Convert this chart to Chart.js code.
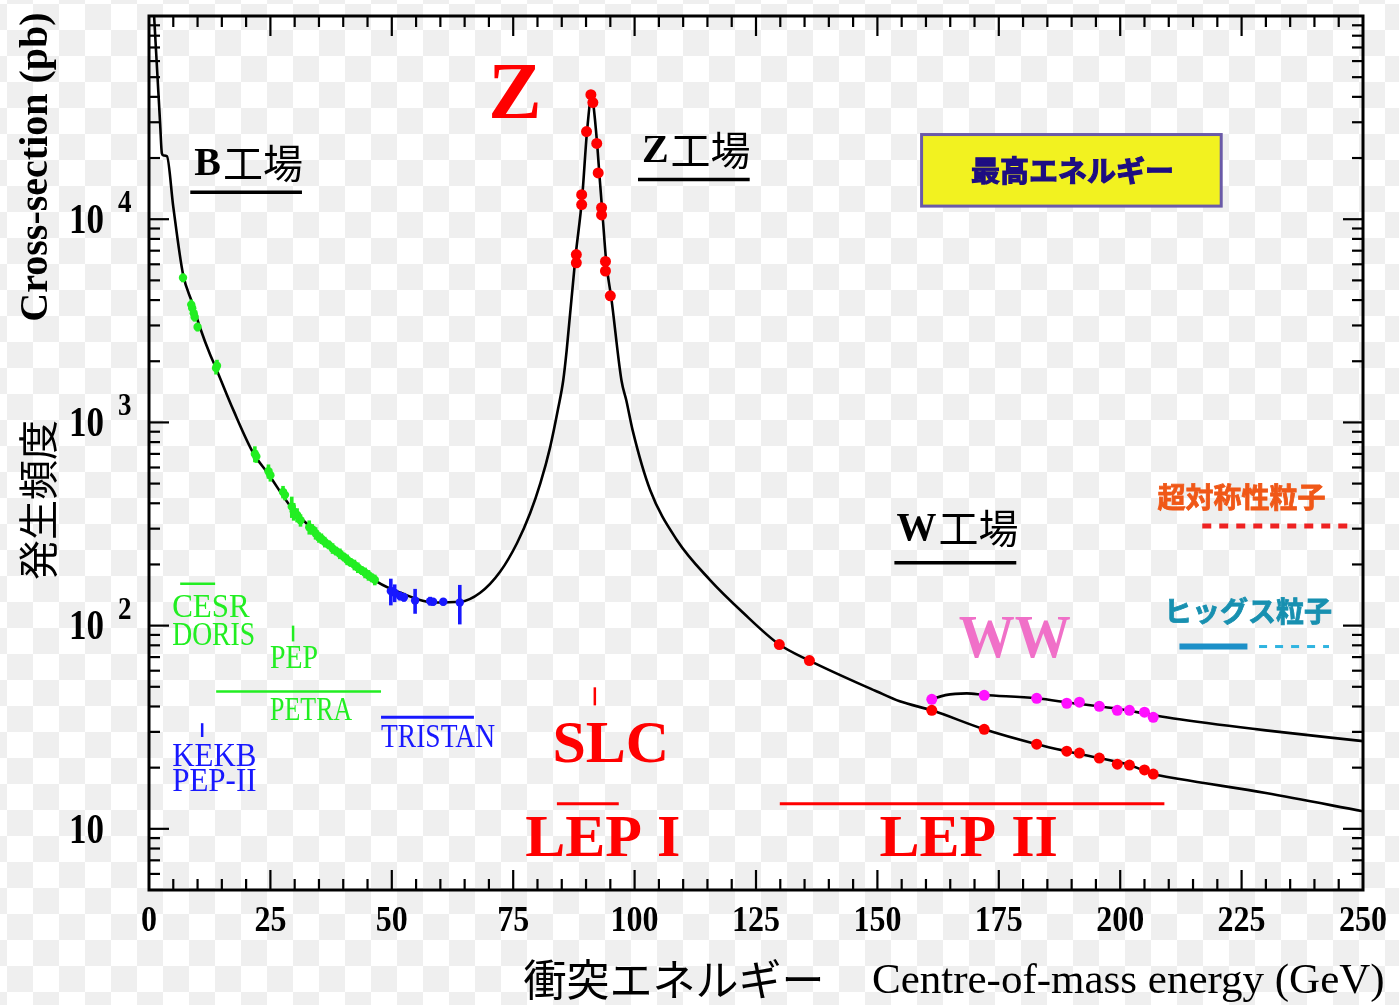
<!DOCTYPE html>
<html><head><meta charset="utf-8">
<script src="https://cdn.jsdelivr.net/npm/chart.js@4/dist/chart.umd.min.js"></script>
<style>
html,body{margin:0;padding:0;}
body{width:1399px;height:1005px;overflow:hidden;background-color:#fff;
background-image:conic-gradient(#efefef 25%, #fff 0 50%, #efefef 0 75%, #fff 0);
background-size:52px 52px;background-position:7px 4px;}
canvas{display:block;}
</style></head><body>
<canvas id="c" width="1399" height="1005"></canvas>
<script>
// ---------- data ----------
const curveE = [1.05,2.3,2.65,3.0,3.7,5.0,7.0,8.9,10.5,12.6,13.4,17.4,21.5,24.4,29.7,33.9,38.0,42.1,47.0,51.8,58.5,64.1,68.2,72.3,75.8,78.5,80.6,82.6,84.3,85.3,86.0,87.8,89.2,90.2,91.2,91.45,92.3,92.8,93.35,94.2,95.2,97.3,98.3,99.6,103.2,108.7,115.5,122.3,129.8,136.0,149.9,154.6,161.2,172.0,182.8,189.0,195.7,201.9,206.8,212.2,230,250];
const curveSigma = [100000,29300,21100,20600,20400,11500,5370,3870,2930,2150,1946,1146,705,565,371,296,241,204,164,145,130,131,145,184,255,358,502,754,1186,1608,2250,6440,12800,27000,41000,37800,23300,16000,10900,6020,4100,1608,1282,914,465,264,168,116,80.7,67.3,47.4,42.4,38.3,30.9,26.1,24.1,22.3,20.6,18.6,17.6,15.0,12.2];

const wwCurveE = [161.2,164.0,168.4,172.0,182.8,190.0,200.0,207.0,212.2,230,250];
const wwCurveSigma = [43.4,45.5,46.4,45.6,43.9,41.6,38.8,36.2,34.6,30.5,27.0];

const lowE = [7.0,8.7,8.9,9.2,9.4,10.0,13.8,14.0,21.8,22.1,24.6,25.0,27.6,28.0,29.4,29.8,30.5,31.2,33.0,33.6,34.3,35.0,35.5,36.2,37.0,37.8,38.5,39.3,40.1,40.8,41.5,42.3,43.0,43.8,44.5,45.2,45.9,46.5];
const lowSigma = [5150,3800,3650,3450,3300,2950,1850,1900,700,680,575,550,455,440,385,365,350,330,305,298,285,272,268,258,250,240,233,226,218,211,205,199,193,187,182,177,172,168];
const lowErr = [0.05,0.06,0.05,0.06,0.05,0.05,0.07,0.07,0.09,0.07,0.08,0.07,0.07,0.06,0.12,0.10,0.08,0.07,0.08,0.06,0.07,0.06,0.06,0.06,0.05,0.06,0.05,0.06,0.05,0.06,0.05,0.06,0.06,0.05,0.06,0.06,0.05,0.06];

const tristanE = [49.8,50.6,51.7,52.5,54.8,57.9,58.5,60.6,64.0];
const tristanSigma = [148,145,140,138,133,132,131,131,130];
const tristanErr = [0.15,0.10,0.05,0.05,0.14,0.05,0.04,0.04,0.22];

const lep1E = [91.0,91.4,90.1,92.2,92.5,89.1,89.1,93.2,93.2,88.0,88.0,94.0,94.0,95.0];
const lep1Sigma = [41000,37500,27000,23600,16900,13200,11800,11400,10500,6700,6100,6200,5560,4200];

const lep2E = [129.8,136.0,161.2,172.0,182.8,189.0,191.6,195.7,199.4,201.9,205.0,206.8];
const lep2Sigma = [80.7,67.3,38.3,30.9,26.1,24.1,23.6,22.3,20.8,20.6,19.5,18.6];

const wwE = [161.2,172.0,182.8,189.0,191.6,195.7,199.4,201.9,205.0,206.8];
const wwSigma = [43.4,45.4,43.9,41.5,42.0,40.1,38.3,38.3,37.5,35.4];

const xTickValues = [0,25,50,75,100,125,150,175,200,225,250];
const xTickLabels = ['0','25','50','75','100','125','150','175','200','225','250'];
const yTickValues = [10,100,1000,10000];
const yTickExponents = ['','2','3','4'];

// ---------- helpers ----------
const SERIF = '"Liberation Serif","Times New Roman",serif';
const JP = '"Noto Sans CJK JP","Noto Sans CJK SC",sans-serif';
const pts = (xs, ys) => xs.map((x, i) => ({x: x, y: ys[i]}));

function T(ctx, s, x, y, o) {
  ctx.save();
  ctx.font = o.font; ctx.fillStyle = o.color || '#000';
  ctx.textAlign = o.align || 'center'; ctx.textBaseline = o.base || 'middle';
  ctx.translate(x, y);
  if (o.rot) ctx.rotate(o.rot);
  ctx.scale(1, o.sy || 1);
  if (o.maxW) ctx.fillText(s, 0, 0, o.maxW); else ctx.fillText(s, 0, 0);
  if (o.stroke) { ctx.strokeStyle = o.color; ctx.lineWidth = o.stroke; ctx.strokeText(s, 0, 0); }
  ctx.restore();
}
function TM(ctx, parts, cx, y) {
  ctx.save();
  let w = 0;
  parts.forEach(p => { ctx.font = p.font; p.w = ctx.measureText(p.t).width; w += p.w + (p.gap || 0); });
  let x = cx - w / 2;
  ctx.textBaseline = 'middle'; ctx.textAlign = 'left';
  parts.forEach(p => { ctx.font = p.font; ctx.fillStyle = p.color || '#000'; ctx.fillText(p.t, x, y + (p.dy || 0)); x += p.w + (p.gap || 0); });
  ctx.restore();
}
function L(ctx, x1, y1, x2, y2, color, w, dash) {
  ctx.save(); ctx.strokeStyle = color; ctx.lineWidth = w; ctx.setLineDash(dash || []);
  ctx.beginPath(); ctx.moveTo(x1, y1); ctx.lineTo(x2, y2); ctx.stroke(); ctx.restore();
}

const GREEN = '#22ee22', BLUE = '#1818ff', RED = '#ff0000', MAG = '#ff10ff';

const errorBars = {
  id: 'errorBars',
  afterDatasetsDraw(chart) {
    const ctx = chart.ctx, xs = chart.scales.x, ys = chart.scales.y, a = chart.chartArea;
    ctx.save();
    ctx.beginPath(); ctx.rect(a.left, a.top, a.right - a.left, a.bottom - a.top); ctx.clip();
    const draw = (E, S, R, c) => E.forEach((e, i) => {
      const x = xs.getPixelForValue(e);
      L(ctx, x, ys.getPixelForValue(S[i] * (1 - R[i])), x, ys.getPixelForValue(S[i] * (1 + R[i])), c, 3.6);
    });
    draw(lowE, lowSigma, lowErr, GREEN);
    draw(tristanE, tristanSigma, tristanErr, BLUE);
    ctx.restore();
  }
};

const decor = {
  id: 'decor',
  afterDraw(chart) {
    const ctx = chart.ctx, xs = chart.scales.x, ys = chart.scales.y, a = chart.chartArea;
    const X = v => xs.getPixelForValue(v), Y = v => ys.getPixelForValue(v);
    // frame
    ctx.save(); ctx.strokeStyle = '#000'; ctx.lineWidth = 3;
    ctx.strokeRect(a.left, a.top, a.right - a.left, a.bottom - a.top); ctx.restore();
    // x ticks (bottom + top)
    for (let v = 5; v < 250; v += 5) {
      const len = v % 25 === 0 ? 20 : 11, x = X(v);
      L(ctx, x, a.bottom, x, a.bottom - len, '#000', 2.2);
      L(ctx, x, a.top, x, a.top + len, '#000', 2.2);
    }
    // y ticks (left + right)
    [1, 10, 100, 1000, 10000].forEach(d => {
      for (let m = 1; m <= 9; m++) {
        const v = m * d; if (v <= 5 || v >= 100000) continue;
        const len = m === 1 ? 20 : 11, y = Y(v);
        L(ctx, a.left, y, a.left + len, y, '#000', 2.2);
        L(ctx, a.right, y, a.right - len, y, '#000', 2.2);
      }
    });
    // tick labels
    xTickValues.forEach((v, i) => T(ctx, xTickLabels[i], X(v), 921, {font: 'bold 32px ' + SERIF, sy: 1.15}));
    yTickValues.forEach((v, i) => {
      T(ctx, '10', 104, Y(v) + 3, {font: 'bold 35px ' + SERIF, align: 'right', sy: 1.2});
      if (yTickExponents[i]) T(ctx, yTickExponents[i], 118, Y(v) - 15, {font: 'bold 27px ' + SERIF, align: 'left', sy: 1.15});
    });
    // axis titles
    T(ctx, 'Cross-section (pb)', 37, 167, {font: 'bold 40px ' + SERIF, rot: -Math.PI / 2});
    T(ctx, '発生頻度', 38, 500, {font: '40px ' + JP, rot: -Math.PI / 2});
    T(ctx, '衝突エネルギー', 674, 980, {font: '43px ' + JP});
    T(ctx, 'Centre-of-mass energy (GeV)', 872, 982, {font: '43px ' + SERIF, align: 'left'});

    // factory labels
    const fac = (ch, cx, cy, u1, u2, uy) => {
      TM(ctx, [{t: ch, font: 'bold 40px ' + SERIF, gap: 2}, {t: '工場', font: '40px ' + JP, dy: -2}], X(cx), Y(cy));
      L(ctx, X(u1), Y(uy), X(u2), Y(uy), '#000', 3.5);
    };
    fac('B', 20.5, 18600, 8.5, 31.5, 13560);
    fac('Z', 112.7, 21500, 100.7, 123.7, 15700);
    fac('W', 166.5, 296, 153.5, 178.6, 204);

    T(ctx, 'Z', X(75.35), Y(39600), {font: 'bold 80px ' + SERIF, color: RED});

    // highest energy box
    const bx1 = X(159.1), bx2 = X(220.8), by1 = Y(26100), by2 = Y(11600);
    ctx.save(); ctx.fillStyle = '#f2f220'; ctx.fillRect(bx1, by1, bx2 - bx1, by2 - by1);
    ctx.strokeStyle = '#6a5aa8'; ctx.lineWidth = 3; ctx.strokeRect(bx1, by1, bx2 - bx1, by2 - by1); ctx.restore();
    T(ctx, '最高エネルギー', X(190.2), Y(17200), {font: 'bold 29px ' + JP, color: '#1e0e82', stroke: 1.2});

    // SUSY / Higgs
    T(ctx, '超対称性粒子', X(225.0), Y(429), {font: 'bold 28px ' + JP, color: '#f05818', stroke: 0.8});
    L(ctx, X(216.9), Y(309), X(247.6), Y(309), '#ee2222', 5, [9, 8]);
    T(ctx, 'ヒッグス粒子', X(226.3), Y(117), {font: 'bold 28px ' + JP, color: '#1890b0', stroke: 0.8});
    L(ctx, X(212.2), Y(78.9), X(226.2), Y(78.9), '#1c90c8', 6);
    L(ctx, X(228.6), Y(78.9), X(243.0), Y(78.9), '#30b4e0', 3, [8, 8]);

    T(ctx, 'WW', X(178.3), Y(84.3), {font: 'bold 56px ' + SERIF, color: '#f070c8', sy: 1.1});

    // accelerator labels
    const g = '31px ' + SERIF;
    L(ctx, X(6.42), Y(160.7), X(13.62), Y(160.7), GREEN, 2.5);
    T(ctx, 'CESR', X(4.77), Y(122.5), {font: g, color: GREEN, align: 'left', maxW: 83, sy: 1.1});
    T(ctx, 'DORIS', X(4.77), Y(89.3), {font: g, color: GREEN, align: 'left', maxW: 83, sy: 1.1});
    L(ctx, X(29.67), Y(100), X(29.67), Y(83.6), GREEN, 2.5);
    T(ctx, 'PEP', X(24.94), Y(68.1), {font: g, color: GREEN, align: 'left', maxW: 48, sy: 1.1});
    L(ctx, X(13.83), Y(47.4), X(47.78), Y(47.4), GREEN, 2.5);
    T(ctx, 'PETRA', X(24.94), Y(37.9), {font: g, color: GREEN, align: 'left', maxW: 82, sy: 1.1});
    L(ctx, X(10.95), Y(33.1), X(10.95), Y(28.3), BLUE, 2.5);
    T(ctx, 'KEKB', X(4.77), Y(22.5), {font: g, color: BLUE, align: 'left', maxW: 88, sy: 1.1});
    T(ctx, 'PEP-II', X(4.77), Y(17.0), {font: g, color: BLUE, align: 'left', maxW: 90, sy: 1.1});
    L(ctx, X(47.78), Y(35.4), X(66.91), Y(35.4), BLUE, 3);
    T(ctx, 'TRISTAN', X(47.78), Y(27.9), {font: g, color: BLUE, align: 'left', maxW: 114, sy: 1.1});

    L(ctx, X(91.81), Y(49.7), X(91.81), Y(40.5), RED, 2.5);
    T(ctx, 'SLC', X(95.1), Y(25.5), {font: 'bold 60px ' + SERIF, color: RED});
    L(ctx, X(84.0), Y(13.3), X(96.74), Y(13.3), RED, 3);
    T(ctx, 'LEP I', X(93.45), Y(8.73), {font: 'bold 60px ' + SERIF, color: RED});
    L(ctx, X(129.9), Y(13.3), X(209.1), Y(13.3), RED, 3);
    T(ctx, 'LEP II', X(168.8), Y(8.73), {font: 'bold 60px ' + SERIF, color: RED});
  }
};

new Chart(document.getElementById('c'), {
  type: 'line',
  data: {
    datasets: [
      {label: 'LEP I', data: pts(lep1E, lep1Sigma), showLine: false, pointRadius: 5.5, pointBackgroundColor: RED, pointBorderWidth: 0, order: 0},
      {label: 'LEP II', data: pts(lep2E, lep2Sigma), showLine: false, pointRadius: 5.5, pointBackgroundColor: RED, pointBorderWidth: 0, order: 0},
      {label: 'WW data', data: pts(wwE, wwSigma), showLine: false, pointRadius: 5.5, pointBackgroundColor: MAG, pointBorderWidth: 0, order: 0},
      {label: 'low energy', data: pts(lowE, lowSigma), showLine: false, pointRadius: 4.2, pointBackgroundColor: GREEN, pointBorderWidth: 0, order: 1},
      {label: 'TRISTAN', data: pts(tristanE, tristanSigma), showLine: false, pointRadius: 4.2, pointBackgroundColor: BLUE, pointBorderWidth: 0, order: 1},
      {label: 'ee -> hadrons', data: pts(curveE, curveSigma), borderColor: '#000', borderWidth: 2.6, pointRadius: 0, cubicInterpolationMode: 'monotone', fill: false, order: 5},
      {label: 'WW', data: pts(wwCurveE, wwCurveSigma), borderColor: '#000', borderWidth: 2.6, pointRadius: 0, cubicInterpolationMode: 'monotone', fill: false, order: 5}
    ]
  },
  options: {
    responsive: false, animation: false, devicePixelRatio: 1,
    layout: {padding: {left: 149, right: 36, top: 16, bottom: 115}},
    plugins: {legend: {display: false}, tooltip: {enabled: false}},
    scales: {
      x: {type: 'linear', min: 0, max: 250, display: false},
      y: {type: 'logarithmic', min: 5, max: 100000, display: false}
    }
  },
  plugins: [errorBars, decor]
});
</script></body></html>
